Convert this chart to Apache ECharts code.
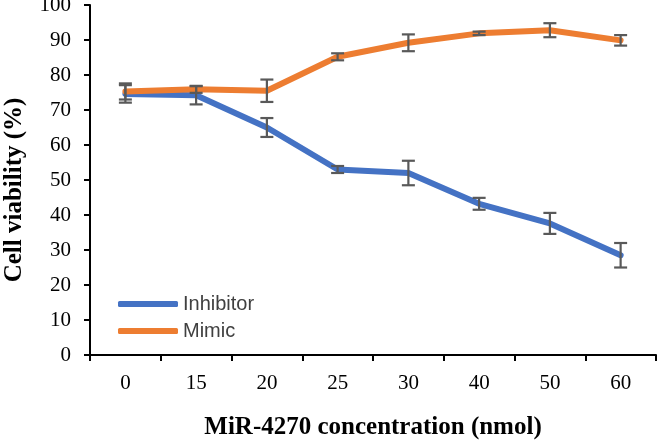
<!DOCTYPE html>
<html><head><meta charset="utf-8">
<script src="https://cdn.jsdelivr.net/npm/echarts@6/dist/echarts.min.js"></script>
<style>html,body{margin:0;padding:0;background:#fff}#c{width:657px;height:441px}</style>
</head><body><div id="c"></div>
<script>
var categories = ['0','15','20','25','30','40','50','60'];
var inhibitor = [74.6, 74.2, 65.0, 53.0, 52.0, 43.2, 37.6, 28.5];
var inhibitorErr = [2.5, 2.6, 2.7, 1.0, 3.5, 1.7, 3.0, 3.5];
var mimic = [75.3, 75.9, 75.5, 85.2, 89.2, 91.9, 92.8, 89.9];
var mimicErr = [2.3, 1.0, 3.2, 1.0, 2.4, 0.5, 2.0, 1.5];
var yTicks = [0,10,20,30,40,50,60,70,80,90,100];

function errData(vals, errs){
  return vals.map(function(v,i){ return [i, v - errs[i], v + errs[i]]; });
}
function renderErr(params, api){
  var x = api.value(0);
  var lo = api.coord([x, api.value(1)]);
  var hi = api.coord([x, api.value(2)]);
  var hw = 6.5;
  var st = {stroke:'#595959', lineWidth:2.2};
  return {type:'group', children:[
    {type:'line', shape:{x1:lo[0],y1:lo[1],x2:hi[0],y2:hi[1]}, style:st},
    {type:'line', shape:{x1:hi[0]-hw,y1:hi[1],x2:hi[0]+hw,y2:hi[1]}, style:st},
    {type:'line', shape:{x1:lo[0]-hw,y1:lo[1],x2:lo[0]+hw,y2:lo[1]}, style:st}
  ]};
}
var serif = '"Liberation Serif","Times New Roman",serif';
var chart = echarts.init(document.getElementById('c'));
chart.setOption({
  animation:false,
  grid:{left:90, right:1, top:5, bottom:86, containLabel:false, outerBoundsMode:'none'},
  legend:{
    left:113, top:289, orient:'vertical', itemWidth:60, itemHeight:6, itemGap:7,
    icon:'roundRect',
    textStyle:{fontFamily:'"Liberation Sans",Arial,sans-serif', fontSize:20, color:'#404040'},
    data:['Inhibitor','Mimic']
  },
  xAxis:{
    type:'category', data:categories, boundaryGap:true,
    name:'MiR-4270 concentration (nmol)', nameLocation:'middle', nameGap:60,
    nameTextStyle:{fontFamily:serif, fontSize:25, fontWeight:'bold', color:'#000'},
    axisLine:{lineStyle:{color:'#000', width:2}},
    axisTick:{show:true, length:6, alignWithLabel:false, lineStyle:{color:'#000', width:2}},
    axisLabel:{fontFamily:serif, fontSize:21, color:'#000', margin:18}
  },
  yAxis:{
    type:'value', min:0, max:100, interval:10,
    name:'Cell viability (%)', nameLocation:'middle', nameGap:63,
    nameTextStyle:{fontFamily:serif, fontSize:25, fontWeight:'bold', color:'#000', padding:[0,20,0,0]},
    axisLine:{show:true, lineStyle:{color:'#000', width:2}},
    axisTick:{show:true, length:6, lineStyle:{color:'#000', width:2}},
    splitLine:{show:false},
    axisLabel:{fontFamily:serif, fontSize:21, color:'#000', margin:19,
      formatter:function(v){ return yTicks.indexOf(v)>=0 ? String(v) : ''; }}
  },
  series:[
    {name:'Inhibitor', type:'line', data:inhibitor, symbol:'none', z:2,
     itemStyle:{color:'#4472C4'}, lineStyle:{color:'#4472C4', width:6, cap:'round', join:'round'}},
    {name:'Mimic', type:'line', data:mimic, symbol:'none', z:3,
     itemStyle:{color:'#ED7D31'}, lineStyle:{color:'#ED7D31', width:6, cap:'round', join:'round'}},
    {type:'custom', renderItem:renderErr, data:errData(inhibitor, inhibitorErr), z:5, silent:true},
    {type:'custom', renderItem:renderErr, data:errData(mimic, mimicErr), z:5, silent:true}
  ]
});
</script></body></html>
